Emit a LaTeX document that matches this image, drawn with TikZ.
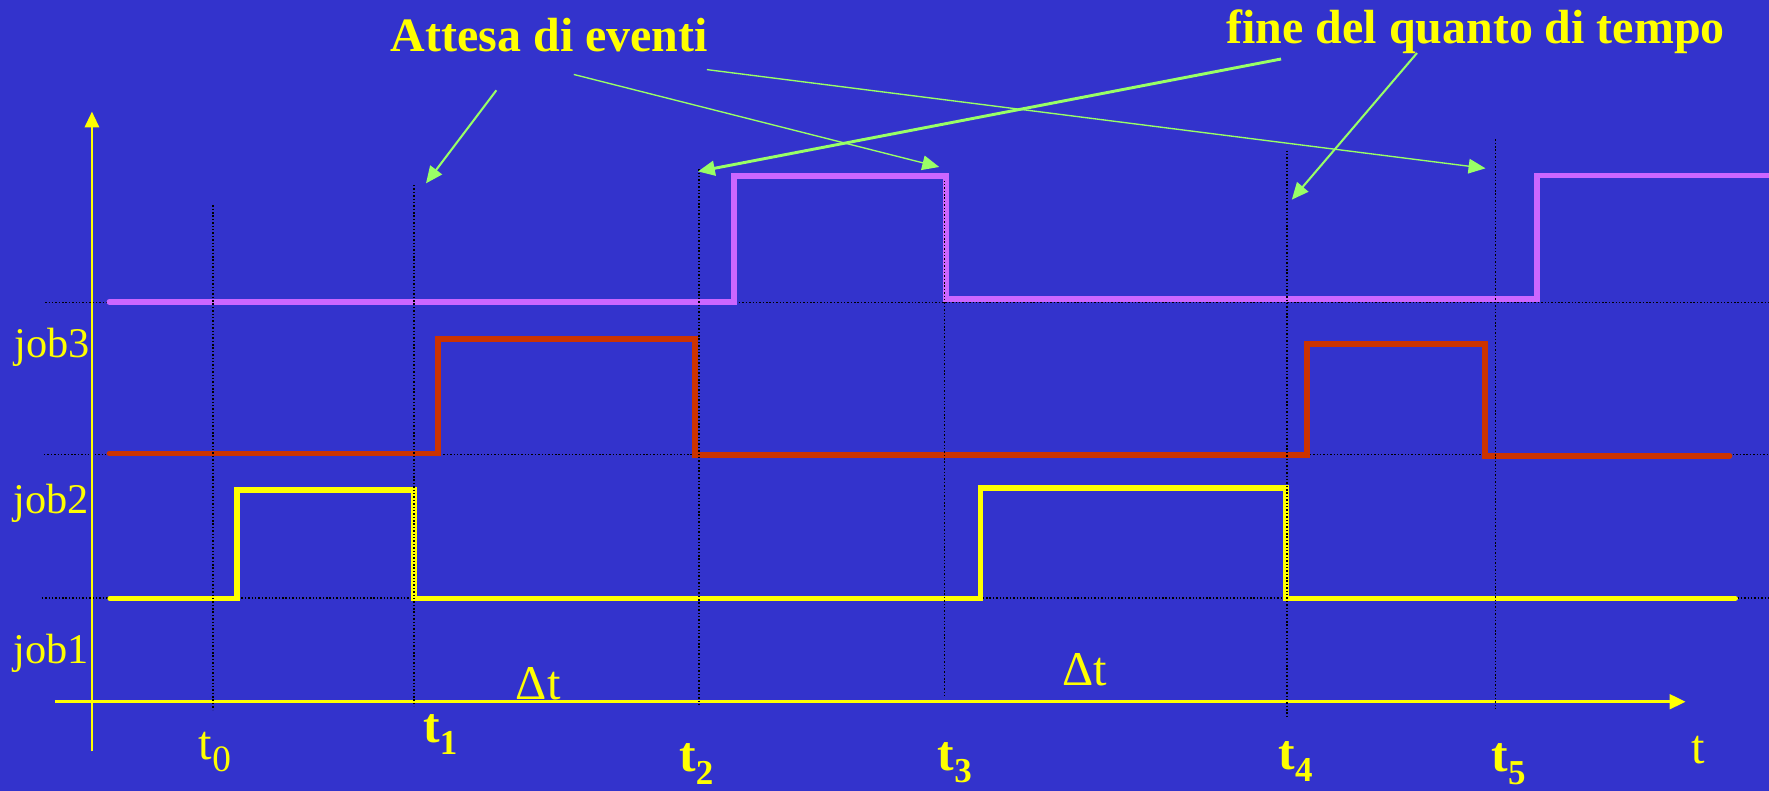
\documentclass[tikz,border=0pt]{standalone}
\usepackage{fontspec}
\setmainfont{Liberation Serif}
\usetikzlibrary{arrows.meta}
\definecolor{bg}{RGB}{51,51,204}
\definecolor{sigyellow}{RGB}{255,255,0}
\definecolor{sigpurple}{RGB}{204,102,255}
\definecolor{sigred}{RGB}{204,51,0}
\definecolor{arrgreen}{RGB}{153,255,102}
\newcommand{\tlab}[2]{t\raisebox{-11pt}{\fontsize{#1}{#1}\selectfont #2}}
\tikzset{
  guide/.style={black, line width=1.4pt, dash pattern=on 1.3pt off 1.7pt},
  signal/.style={line width=5pt, line cap=round, line join=miter},
  callout/.style={arrgreen, -{Triangle[length=15pt,width=13pt]}},
  axis/.style={sigyellow, -{Triangle[length=14pt,width=13pt]}},
  title/.style={text=sigyellow, inner sep=0pt, anchor=base, font=\fontsize{42.5}{50}\selectfont\bfseries},
  joblab/.style={text=sigyellow, inner sep=0pt, anchor=base west, font=\fontsize{37.5}{44}\selectfont},
  tlabr/.style={text=sigyellow, inner sep=0pt, anchor=base west, font=\fontsize{43}{50}\selectfont},
  tlabb/.style={text=sigyellow, inner sep=0pt, anchor=base west, font=\fontsize{44}{50}\selectfont\bfseries},
}
\begin{document}
\begin{tikzpicture}[x=1pt, y=-1pt]
\fill[bg] (0,0) rectangle (1568,701);
\useasboundingbox (0,0) rectangle (1568,701);

% horizontal guide lines
\draw[guide] (40,268) -- (1568,268);
\draw[guide] (39,403) -- (1568,403);
\draw[guide] (37,530) -- (1568,530);

% axes
\draw[axis, line width=1.3pt] (81.5,666) -- (81.5,99);
\draw[axis, line width=2.4pt] (49,622) -- (1494,622);

% signals
\draw[signal, sigpurple] (97,267.5) -- (650.6,267.5) -- (650.6,156) -- (838.5,156) -- (838.5,265) -- (1362.6,265) -- (1362.6,155.5) -- (1575,155.5);
\draw[signal, sigred] (97,402) -- (388,402) -- (388,300.6) -- (616,300.6) -- (616,403.5) -- (1158.6,403.5) -- (1158.6,305) -- (1316.5,305) -- (1316.5,404) -- (1533,404);
\draw[signal, sigyellow] (97.7,530.5) -- (210,530.5) -- (210,434.5) -- (367,434.5) -- (367,530.5) -- (869,530.5) -- (869,432.5) -- (1140,432.5) -- (1140,530.5) -- (1538,530.5);

% vertical guide lines
\draw[guide] (189,182) -- (189,629);
\draw[guide] (367,164) -- (367,626);
\draw[guide] (619.6,150) -- (619.6,626);
\draw[guide] (837,160) -- (837,618);
\draw[guide] (1141,133.5) -- (1141,636);
\draw[guide] (1325.5,123.5) -- (1325.5,628);

% titles
\node[title] (attesa) at (487,46) {Attesa di eventi};
\node[title] (fine) at (1308,38.4) {fine del quanto di tempo};

% job labels
\node[joblab] (job3) at (13,316.5) {job3};
\node[joblab] (job2) at (12,455) {job2};
\node[joblab] (job1) at (12,588) {job1};

% time labels
\node[tlabr] (t0) at (176,673) {\tlab{33}{0}};
\node[tlabb] (t1) at (375,658) {\tlab{31}{1}};
\node[tlabb] (t2) at (602,684) {\tlab{31}{2}};
\node[tlabb] (t3) at (831,683) {\tlab{31}{3}};
\node[tlabb] (t4) at (1133,682) {\tlab{31}{4}};
\node[tlabb] (t5) at (1322,684) {\tlab{31}{5}};
\node[tlabr] (tt) at (1499,677) {t};
\node[tlabr] (dt1) at (457,619.6) {Δt};
\node[tlabr] (dt2) at (941.5,608) {Δt};

% callout arrows
\coordinate (a1s) at (440,80);
\coordinate (a1e) at (377.6,162.5);
\coordinate (a2s) at (508.6,66);
\coordinate (a2e) at (832.5,148);
\coordinate (a3s) at (626.6,61.7);
\coordinate (a3e) at (1316.7,149.2);
\coordinate (a4s) at (1135.5,52.3);
\coordinate (a4e) at (618.6,152);
\coordinate (a5s) at (1256,47);
\coordinate (a5e) at (1145,177);
\draw[callout, line width=1.8pt] (a1s) -- (a1e);
\draw[callout, line width=1.2pt] (a2s) -- (a2e);
\draw[callout, line width=1.2pt] (a3s) -- (a3e);
\draw[callout, line width=2.6pt] (a4s) -- (a4e);
\draw[callout, line width=1.8pt] (a5s) -- (a5e);
\end{tikzpicture}
\end{document}
